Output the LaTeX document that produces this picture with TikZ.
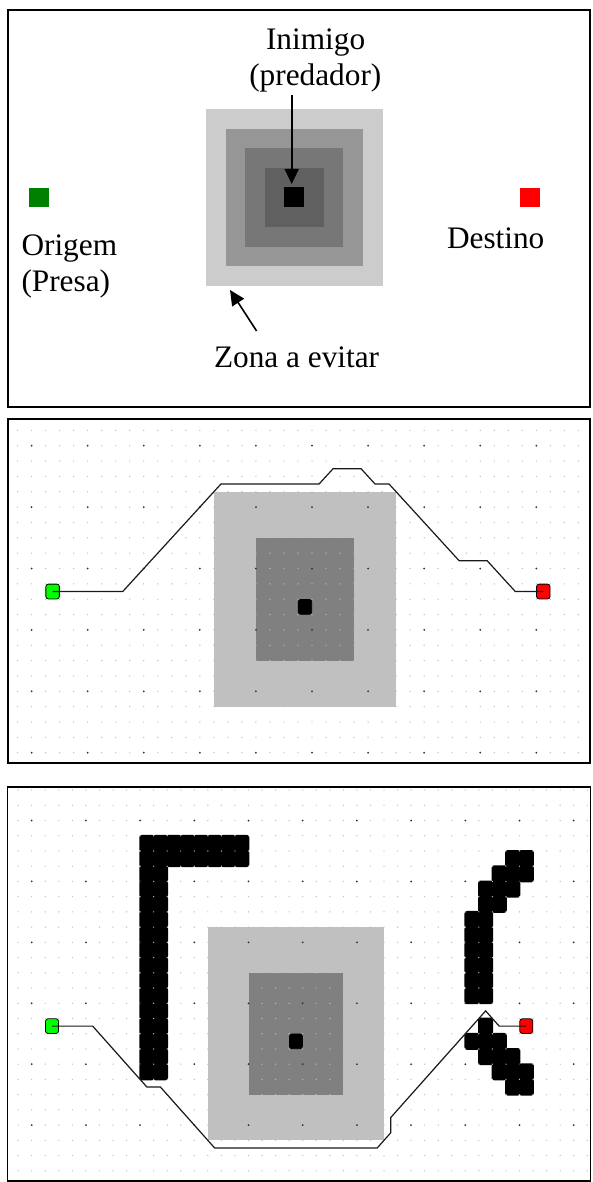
\documentclass[tikz,border=0pt]{standalone}
\usepackage{fontspec}
\setmainfont{Liberation Serif}
\usetikzlibrary{arrows.meta}
\definecolor{zoneA}{HTML}{CCCCCC}
\definecolor{zoneB}{HTML}{969696}
\definecolor{zoneC}{HTML}{777777}
\definecolor{zoneD}{HTML}{606060}
\definecolor{preyg}{HTML}{008000}
\definecolor{destr}{HTML}{FF0000}
\definecolor{gridlight}{HTML}{C0C0C0}
\definecolor{griddark}{HTML}{808080}
\definecolor{dotlight}{HTML}{BEBEBE}
\definecolor{dotdark}{HTML}{303030}
\definecolor{startg}{HTML}{00FF00}
\begin{document}
\begin{tikzpicture}[x=1pt,y=-1pt,
  frame/.style={draw=black,line width=1.8pt,fill=white},
  lbl/.style={font=\fontsize{31.3}{36}\selectfont,inner sep=0pt,outer sep=0pt},
  arr/.style={line width=1.6pt,-{Triangle[length=15pt,width=14pt]}},
  sq/.style={inner sep=0pt,outer sep=0pt,draw=none,minimum width=#1,minimum height=#1},
  cellbox/.style={inner sep=0pt,outer sep=0pt,draw=black,line width=0.8pt,rounded corners=2.5pt},
  route/.style={draw=black!90,line width=1.2pt,line join=miter},
  wall/.style={fill=black,rounded corners=2.5pt}]
\useasboundingbox (0,0) rectangle (592,1182);

% ---------------- Panel 1 ----------------
\draw[frame] (8,10) rectangle (590,407);
\node[sq=177.2pt,fill=zoneA] (zA) at (294.3,197.5) {};
\node[sq=137.6pt,fill=zoneB] (zB) at (294.3,197.5) {};
\node[sq=98.2pt,fill=zoneC]  (zC) at (294.3,197.5) {};
\node[sq=58.8pt,fill=zoneD]  (zD) at (294.3,197.5) {};
\node[sq=20pt,fill=black]    (pred) at (294.3,197.5) {};
\node[sq=19.6pt,fill=preyg]  (orig) at (39.2,197.5) {};
\node[sq=19.6pt,fill=destr]  (dest) at (529.8,197.5) {};
\node[lbl,anchor=base] (tInim) at (315.6,50) {Inimigo};
\node[lbl,anchor=base] (tPred) at (315.3,86) {(predador)};
\node[lbl,anchor=base west] (tOrig) at (21.5,255) {Origem};
\node[lbl,anchor=base west] (tPresa) at (21.5,291.7) {(Presa)};
\node[lbl,anchor=base west] (tDest) at (447,248.3) {Destino};
\node[lbl,anchor=base west] (tZona) at (214,367.7) {Zona a evitar};
\coordinate (a1s) at (291.7,95);
\coordinate (a1e) at (291.7,184);
\coordinate (a2s) at (256.6,331);
\coordinate (a2e) at (230,290);
\draw[arr] (a1s) -- (a1e);
\draw[arr] (a2s) -- (a2e);

% ---------------- Panel 2 ----------------
\draw[frame] (8,419.3) rectangle (590,762.7);
\begin{scope}[shift={(31.6,445.7)},x=14.02pt,y=-15.35pt]
  \fill[gridlight] (13,3) rectangle (26,17);
  \fill[griddark] (16,6) rectangle (23,14);
  \foreach \k in {-1,...,39}{
    \foreach \m in {-1,...,20}{
      \pgfmathtruncatemacro\dd{(mod(\k+4,4)==0)&&(mod(\m+4,4)==0)}
      \ifnum\dd=1
        \fill[dotdark] (\k,\m) circle[radius=1pt];
      \else
        \fill[dotlight] (\k,\m) circle[radius=0.7pt];
      \fi
    }
  }
  \node[cellbox,fill=black,minimum width=13.5pt,minimum height=14.8pt] (p2) at (19.5,10.5) {};
  \node[cellbox,fill=startg,minimum width=13.5pt,minimum height=14.8pt] (g2) at (1.5,9.5) {};
  \node[cellbox,fill=destr,minimum width=13.5pt,minimum height=14.8pt] (r2) at (36.5,9.5) {};
  \draw[route] (g2.center) -- (6.5,9.5) -- (13.5,2.5) -- (20.5,2.5) -- (21.5,1.5)
    -- (23.5,1.5) -- (24.5,2.5) -- (25.5,2.5) -- (30.5,7.5) -- (32.5,7.5)
    -- (34.5,9.5) -- (r2.center);
\end{scope}

% ---------------- Panel 3 ----------------
\draw[frame] (7.5,786.7) rectangle (590.5,1181);
\begin{scope}[shift={(31.7,820.5)},x=13.55pt,y=-15.23pt]
  \fill[gridlight] (13,7) rectangle (26,21);
  \fill[griddark] (16,10) rectangle (23,18);
  % L-shaped wall
  \foreach \k in {8,...,15}{\foreach \m in {1,2}{\fill[wall] (\k-0.06,\m-0.06) rectangle (\k+1.06,\m+1.06);}}
  \foreach \k in {8,9}{\foreach \m in {3,...,16}{\fill[wall] (\k-0.06,\m-0.06) rectangle (\k+1.06,\m+1.06);}}
  % upper right wall
  \foreach \k/\m in {35/2,36/2,35/3,36/3,34/3,34/4,35/4,33/4,33/5,34/5}{\fill[wall] (\k-0.06,\m-0.06) rectangle (\k+1.06,\m+1.06);}
  \foreach \k in {32,33}{\foreach \m in {6,...,11}{\fill[wall] (\k-0.06,\m-0.06) rectangle (\k+1.06,\m+1.06);}}
  % lower right wall
  \foreach \k/\m in {33/13,32/14,33/14,34/14,33/15,34/15,35/15,34/16,35/16,36/16,35/17,36/17}{\fill[wall] (\k-0.06,\m-0.06) rectangle (\k+1.06,\m+1.06);}
  \foreach \k in {-1,...,41}{
    \foreach \m in {-2,...,23}{
      \pgfmathtruncatemacro\dd{(mod(\k+4,4)==0)&&(mod(\m+4,4)==0)}
      \ifnum\dd=1
        \fill[dotdark] (\k,\m) circle[radius=1pt];
      \else
        \fill[dotlight] (\k,\m) circle[radius=0.7pt];
      \fi
    }
  }
  \node[cellbox,fill=black,minimum width=13pt,minimum height=14.7pt] (p3) at (19.5,14.5) {};
  \node[cellbox,fill=startg,minimum width=13pt,minimum height=14.7pt] (g3) at (1.5,13.5) {};
  \node[cellbox,fill=destr,minimum width=13pt,minimum height=14.7pt] (r3) at (36.5,13.5) {};
  \draw[route] (g3.center) -- (4.5,13.5) -- (8.5,17.5) -- (9.5,17.5) -- (13.5,21.5)
    -- (25.5,21.5) -- (26.5,20.5) -- (26.5,19.5) -- (33.5,12.5) -- (34.5,13.5)
    -- (r3.center);
\end{scope}
\end{tikzpicture}
\end{document}
